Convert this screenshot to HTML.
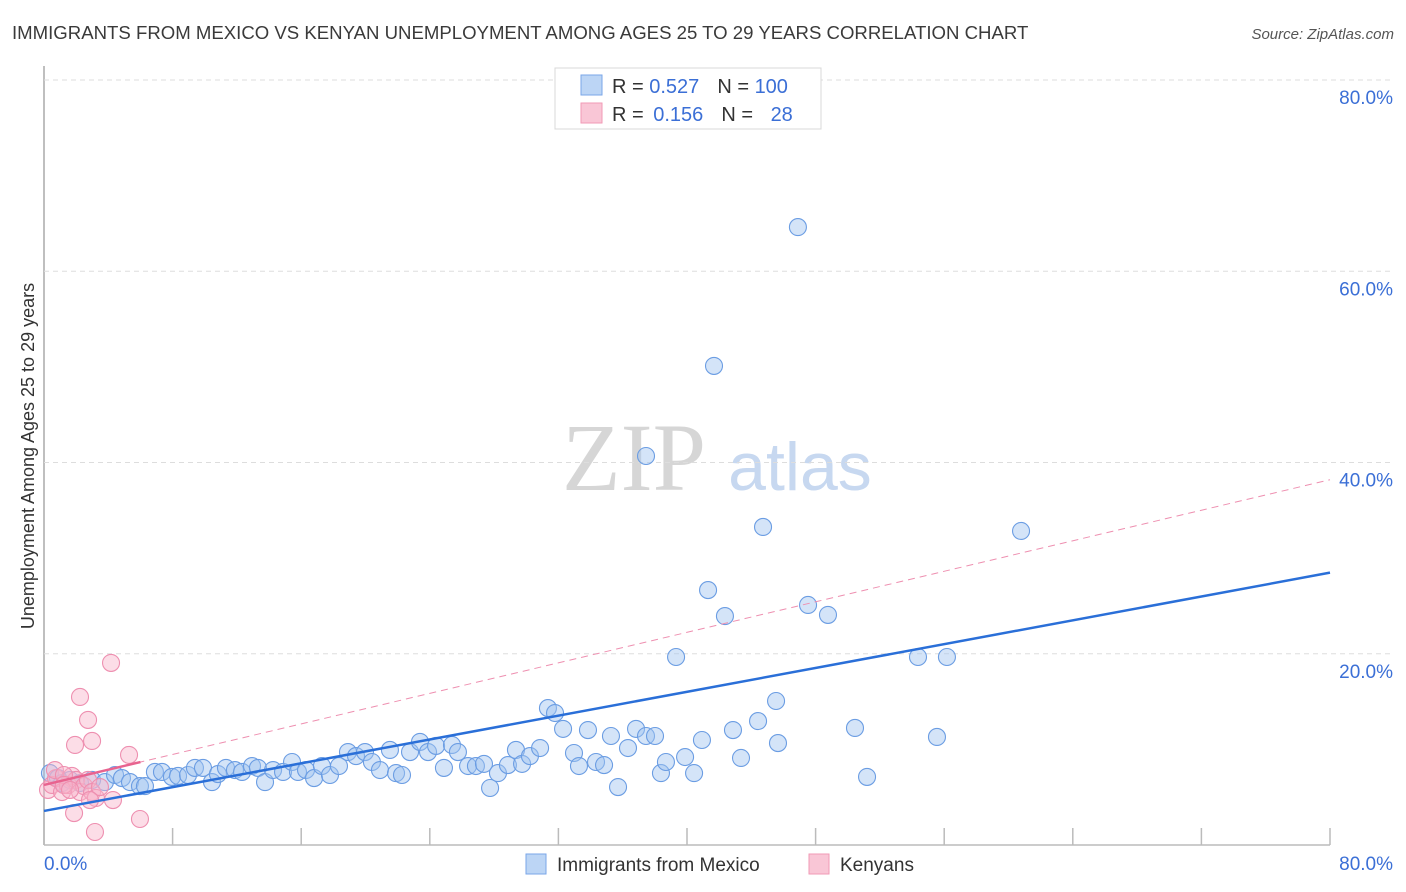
<!DOCTYPE html>
<html><head><meta charset="utf-8">
<style>
body{margin:0;background:#fff;font-family:"Liberation Sans",sans-serif;}
#wrap{position:relative;width:1406px;height:892px;overflow:hidden;}
</style></head>
<body>
<div id="wrap">
<svg id="chartsvg" width="1406" height="892" xmlns="http://www.w3.org/2000/svg">
<text x="12" y="39" font-size="18.6" fill="#3a3a3a">IMMIGRANTS FROM MEXICO VS KENYAN UNEMPLOYMENT AMONG AGES 25 TO 29 YEARS CORRELATION CHART</text>
<text x="1394" y="39" font-size="15" fill="#555" font-style="italic" text-anchor="end">Source: ZipAtlas.com</text>
<text x="634" y="490" font-size="96" fill="#d6d6d6" font-family="Liberation Serif,serif" text-anchor="middle">ZIP</text>
<text x="800" y="490" font-size="68" fill="#c7d8f0" text-anchor="middle">atlas</text>
<text transform="translate(34,456) rotate(-90)" font-size="18" fill="#333" text-anchor="middle">Unemployment Among Ages 25 to 29 years</text>
<g id="grid"></g><g id="marks"></g>
<g>
<rect x="555" y="68" width="266" height="61" fill="#fff" stroke="#d8d8d8"/>
<rect x="581" y="75" width="21" height="20" fill="#bcd5f5" stroke="#7aa6e8"/>
<rect x="581" y="103" width="21" height="20" fill="#f9c6d6" stroke="#f19ab6"/>
<text x="612" y="93" font-size="20" fill="#333">R = <tspan fill="#3b6fd6">0.527</tspan><tspan dx="18">N = </tspan><tspan fill="#3b6fd6">100</tspan></text>
<text x="612" y="121" font-size="20" fill="#333">R = <tspan fill="#3b6fd6" dx="4">0.156</tspan><tspan dx="18">N = </tspan><tspan fill="#3b6fd6" dx="12">28</tspan></text>
</g>
<g>
<rect x="526" y="854" width="20" height="20" fill="#bcd5f5" stroke="#7aa6e8"/>
<text x="557" y="871" font-size="19" fill="#333">Immigrants from Mexico</text>
<rect x="809" y="854" width="20" height="20" fill="#f9c6d6" stroke="#f19ab6"/>
<text x="840" y="871" font-size="19" fill="#333">Kenyans</text>
</g>
</svg>
</div>
<script>
const yTicks=[20,40,60,80];
const xTickLabels=["0.0%","80.0%"];
const mexicoX=[0.37,0.87,1.12,1.62,2.24,2.99,3.79,4.42,4.85,5.35,5.97,6.28,6.9,7.34,7.96,8.34,8.96,9.39,9.89,10.45,10.82,11.32,11.88,12.32,12.94,13.31,13.75,14.25,14.87,15.43,15.8,16.3,16.8,17.29,17.79,18.35,18.91,19.41,19.97,20.4,20.9,21.52,21.9,22.27,22.77,23.39,23.89,24.39,24.88,25.38,25.75,26.38,26.87,27.37,27.75,28.24,28.86,29.36,29.74,30.23,30.86,31.35,31.79,32.29,32.97,33.28,33.84,34.34,34.84,35.27,35.71,36.33,36.83,37.45,38.01,38.38,38.69,39.32,39.88,40.44,40.93,41.31,41.68,42.36,42.86,43.36,37.45,44.42,44.73,45.54,45.66,46.9,47.53,48.77,50.45,51.2,54.37,55.55,56.17,60.78];
const mexicoY=[7.52,7.0,6.48,6.8,6.48,6.8,6.58,7.32,7.0,6.58,6.16,6.16,7.64,7.64,7.12,7.22,7.32,8.06,8.06,6.58,7.42,8.06,7.84,7.64,8.26,8.06,6.58,7.84,7.64,8.68,7.64,7.84,7.0,8.26,7.32,8.26,9.72,9.3,9.72,8.68,7.84,9.94,7.52,7.32,9.72,10.78,9.72,10.36,8.06,10.46,9.72,8.26,8.26,8.48,5.96,7.52,8.36,9.94,8.48,9.3,10.14,14.32,13.8,12.14,9.62,8.26,12.02,8.68,8.36,11.4,6.06,10.14,12.14,11.4,11.4,7.52,8.68,19.66,9.2,7.52,10.98,26.66,50.1,23.94,12.02,9.1,40.68,12.96,33.26,15.06,10.66,64.62,25.1,24.06,12.24,7.12,19.66,11.3,19.66,32.84];
const kenyaX=[0.25,0.5,0.75,1.12,1.49,1.74,1.99,2.24,2.49,2.74,2.99,3.23,3.48,0.68,1.24,1.93,2.24,2.74,2.99,4.17,2.86,1.87,3.17,4.29,5.29,5.97,1.24,1.62];
const kenyaY=[5.76,6.28,7.0,5.54,6.28,7.22,6.8,5.54,6.16,6.8,5.54,4.92,6.06,7.84,7.32,10.46,15.48,13.08,10.88,19.04,4.7,3.34,1.36,4.7,9.42,2.72,6.28,5.76];
const trendMexico=[3.56,28.48];
const trendKenya=[6.28,38.2];
const kenyaSolidEnd=6.0;

const W={x0:44,x1:1330,y0:845,y80:80};
function sx(v){return W.x0+(W.x1-W.x0)*v/80;}
function sy(v){return W.y0-(W.y0-W.y80)*v/80;}
const NS="http://www.w3.org/2000/svg";
const grid=document.getElementById('grid');
const marks=document.getElementById('marks');
function mk(tag,attrs,parent){const e=document.createElementNS(NS,tag);for(const k in attrs)e.setAttribute(k,attrs[k]);parent.appendChild(e);return e;}
let ya=mk('line',{x1:44,y1:66,x2:44,y2:845,stroke:'#aaa','stroke-width':1.5},grid);


let xa=mk('line',{x1:44,y1:845,x2:1330,y2:845,stroke:'#bbb','stroke-width':1.5},grid);


for(let i=1;i<=10;i++){
  let t=mk('line',{x1:sx(i*8),y1:828,x2:sx(i*8),y2:845,stroke:'#bbb','stroke-width':1.5},grid);
  
  
}
yTicks.forEach(v=>{
  let g=mk('line',{x1:44,y1:sy(v),x2:1393,y2:sy(v),stroke:'#ddd','stroke-dasharray':'5,4'},grid);
  
  
  let t=mk('text',{x:1393,y:sy(v)+24,'font-size':19,fill:'#3b6fd6','text-anchor':'end'},grid);
  t.textContent=v.toFixed(1)+'%';
  
  
});
let xl0=mk('text',{x:44,y:870,'font-size':19,fill:'#3b6fd6'},grid);
xl0.textContent=xTickLabels[0];


let xl1=mk('text',{x:1393,y:870,'font-size':19,fill:'#3b6fd6','text-anchor':'end'},grid);
xl1.textContent=xTickLabels[1];


mexicoX.forEach((x,i)=>{
  let c=mk('circle',{cx:sx(x),cy:sy(mexicoY[i]),r:8.5,fill:'rgba(160,196,240,0.45)',stroke:'#6b9de3','stroke-width':1.1},marks);
  
  
});
kenyaX.forEach((x,i)=>{
  let c=mk('circle',{cx:sx(x),cy:sy(kenyaY[i]),r:8.5,fill:'rgba(248,180,202,0.45)',stroke:'#ee8fb0','stroke-width':1.1},marks);
  
  
});
let kd=mk('line',{x1:sx(0),y1:sy(trendKenya[0]),x2:sx(80),y2:sy(trendKenya[1]),stroke:'#ee8fb0','stroke-width':1,'stroke-dasharray':'7,5'},marks);


let ks=mk('line',{x1:sx(0),y1:sy(trendKenya[0]),x2:sx(kenyaSolidEnd),y2:sy(trendKenya[0]+(trendKenya[1]-trendKenya[0])*kenyaSolidEnd/80),stroke:'#e8638f','stroke-width':2.5},marks);


let bm=mk('line',{x1:sx(0),y1:sy(trendMexico[0]),x2:sx(80),y2:sy(trendMexico[1]),stroke:'#2a6fd8','stroke-width':2.5},marks);


</script>
</body></html>
